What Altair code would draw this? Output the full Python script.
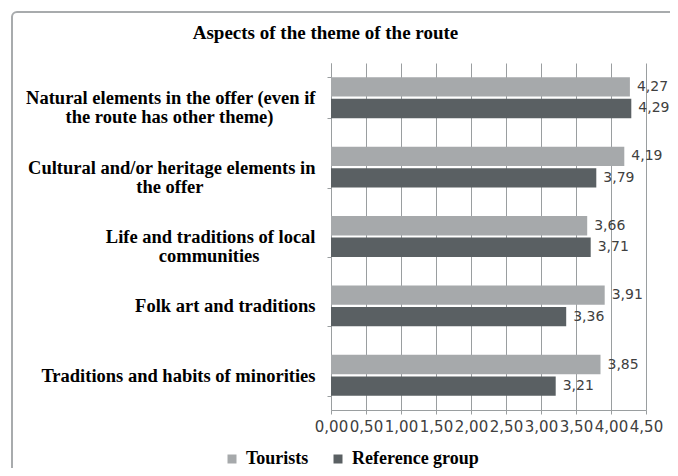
import altair as alt
import pandas as pd

PAD = "\u2800"
categories = [
    "Natural elements in the offer (even if|the route has other theme)" + PAD * 3,
    "Cultural and/or heritage elements in|the offer" + PAD * 8,
    "Life and traditions of local|communities" + PAD * 4,
    "Folk art and traditions",
    "Traditions and habits of minorities",
]
series = ["Tourists", "Reference group"]
tourists = [4.27, 4.19, 3.66, 3.91, 3.85]
reference = [4.29, 3.79, 3.71, 3.36, 3.21]
x_ticks = [0, 0.5, 1.0, 1.5, 2.0, 2.5, 3.0, 3.5, 4.0, 4.5]
colors = ["#a6a9ab", "#5a6063"]

rows = []
for c, t, r in zip(categories, tourists, reference):
    rows.append({"category": c, "series": series[0], "value": t})
    rows.append({"category": c, "series": series[1], "value": r})
df = pd.DataFrame(rows)

GRAY = "#9a9ea0"

frame = alt.Chart(pd.DataFrame({"f": [0]})).mark_rect(
    filled=False, stroke="#a8abad", strokeWidth=2, cornerRadius=5
).encode(
    x=alt.value(-319), x2=alt.value(720), y=alt.value(-51), y2=alt.value(520)
)

xenc = alt.X(
    "value:Q",
    scale=alt.Scale(domain=[0, 4.5], nice=False, zero=True),
    axis=alt.Axis(
        title=None,
        values=x_ticks,
        labelExpr="replace(format(datum.value, '.2f'), '.', ',')",
        labelFont="DejaVu Sans",
        labelFontSize=15,
        labelColor="#404040",
        labelOverlap=False,
        labelFlush=False,
        labelPadding=5,
        tickSize=4,
        tickColor=GRAY,
        domainColor=GRAY,
        grid=True,
        gridColor=GRAY,
        gridWidth=1,
    ),
)

base = alt.Chart(df).transform_calculate(
    label="replace(format(datum.value, '.2f'), '.', ',')"
).encode(
    x=xenc,
    y=alt.Y(
        "category:N",
        sort=categories,
        scale=alt.Scale(paddingInner=0.41, paddingOuter=0.205),
        axis=alt.Axis(
            title=None,
            labelExpr="split(datum.label, '|')",
            labelFont="Liberation Serif",
            labelFontSize=18.5,
            labelFontWeight="bold",
            labelColor="black",
            labelAlign="right",
            labelPadding=12,
            labelLineHeight=19,
            labelLimit=500,
            tickSize=4,
            tickBand="extent",
            tickColor=GRAY,
            domainColor=GRAY,
            domainWidth=1,
        ),
    ),
    yOffset=alt.YOffset("series:N", sort=series, scale=alt.Scale(paddingInner=0.1)),
)

bars = base.mark_bar().encode(
    color=alt.Color(
        "series:N",
        sort=series,
        scale=alt.Scale(domain=series, range=colors),
        legend=alt.Legend(
            title=None,
            orient="none",
            legendX=-108,
            legendY=387,
            direction="horizontal",
            symbolType="square",
            symbolSize=81,
            symbolStrokeWidth=0,
            labelFont="Liberation Serif",
            labelFontSize=18,
            labelFontWeight="bold",
            labelColor="black",
            labelOffset=5,
            columnPadding=20,
            padding=0,
        ),
    ),
)

labels = base.mark_text(
    align="left", baseline="middle", dx=7, font="DejaVu Sans", fontSize=14, color="#404040"
).encode(text="label:N")

chart = alt.layer(frame, bars, labels).properties(
    width=315,
    height=347,
    title=alt.TitleParams(
        "Aspects of the theme of the route",
        font="Liberation Serif",
        fontSize=19,
        fontWeight="bold",
        color="black",
        anchor="middle",
        baseline="alphabetic",
        dx=-163,
        offset=-47,
    ),
    autosize=alt.AutoSizeParams(type="none"),
    padding={"left": 323, "top": 55, "right": 24, "bottom": 58},
    background="white",
).configure_view(stroke=None)

chart.save("out.html", embed_options={"renderer": "svg", "actions": False})
